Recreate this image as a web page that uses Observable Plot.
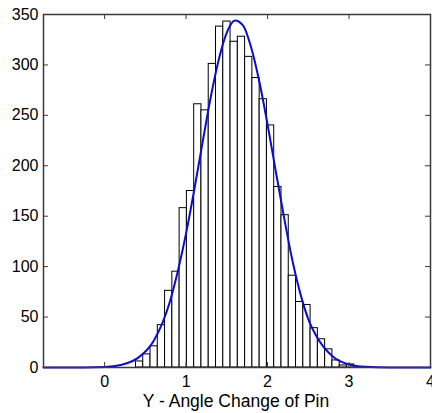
<!DOCTYPE html>
<html>
<head>
<meta charset="utf-8">
<script src="https://cdn.jsdelivr.net/npm/d3@7"></script>
<script src="https://cdn.jsdelivr.net/npm/@observablehq/plot@0.6"></script>
<style>
  html, body { margin: 0; padding: 0; background: #fff; }
  #chart { width: 432px; height: 413px; overflow: hidden; }
</style>
</head>
<body>
<div id="chart"></div>
<script>
// Histogram: 30 bins, left edge of first bin and bin width (data units)
const binStart = 0.385;
const binWidth = 0.0893;
const counts = [6, 13, 21, 42, 76, 95, 158, 175, 261, 255, 301, 338, 343, 323, 328,
                308, 287, 266, 240, 179, 151, 91, 65, 62, 39, 28, 18, 7, 2, 3];

// Fitted curve
const curveX = [-0.75, -0.5, 0, 0.2, 0.4, 0.6, 0.8, 0.9, 1.0, 1.1, 1.2, 1.3, 1.4, 1.5, 1.6, 1.7,
                1.8, 1.9, 2.0, 2.1, 2.2, 2.3, 2.4, 2.5, 2.6, 2.8, 3.0, 3.2, 3.5, 4.0];
const curveY = [0, 0, 0.6, 2.5, 9, 26, 65, 96, 133, 176, 222, 267, 305, 332, 344, 339,
                317, 283, 241, 195, 150, 108, 74, 48, 31, 11, 3, 0.7, 0, 0];

const xTicks = [0, 1, 2, 3, 4];
const yTicks = [0, 50, 100, 150, 200, 250, 300, 350];
const xLabel = "Y - Angle Change of Pin";

const bars = counts.map((c, i) => ({x1: binStart + i * binWidth, x2: binStart + (i + 1) * binWidth, y: c}));
const curve = curveX.map((x, i) => ({x, y: curveY[i]}));

const W = 432, H = 413, mL = 43, mR = 2, mT = 14, mB = 46;
const pw = W - mL - mR, ph = H - mT - mB;
const tickLen = 5;
const axisColor = "#3a3a3a";
const fmt = d => String(d);

const chart = Plot.plot({
  width: W,
  height: H,
  marginLeft: mL,
  marginRight: mR,
  marginTop: mT,
  marginBottom: mB,
  x: {domain: [-0.75, 4]},
  y: {domain: [0, 350]},
  style: {fontFamily: "'Liberation Sans', Arial, sans-serif", fontSize: "16px", background: "#fff", color: "#000"},
  marks: [
    Plot.rectY(bars, {x1: "x1", x2: "x2", y: "y", fill: "#fff", stroke: "#000", strokeWidth: 1}),
    Plot.line(curve, {x: "x", y: "y", stroke: "#0c0ccc", strokeWidth: 2, curve: "monotone-x"}),
    Plot.frame({stroke: axisColor, strokeWidth: 1.5}),
    Plot.ruleX(xTicks, {stroke: axisColor, insetTop: ph - tickLen}),
    Plot.ruleX(xTicks, {stroke: axisColor, insetBottom: ph - tickLen}),
    Plot.ruleY(yTicks, {stroke: axisColor, insetRight: pw - tickLen}),
    Plot.ruleY(yTicks, {stroke: axisColor, insetLeft: pw - tickLen}),
    Plot.axisX({ticks: xTicks, tickFormat: fmt, tickSize: 0, tickPadding: 8, label: null, fontSize: 16}),
    Plot.axisY({ticks: yTicks, tickFormat: fmt, tickSize: 0, tickPadding: 5, label: null, fontSize: 16}),
    Plot.text([xLabel], {frameAnchor: "bottom", dx: -1, dy: 39, fontSize: 17.5, fill: "#000"})
  ]
});
document.getElementById("chart").appendChild(chart);
</script>
</body>
</html>
